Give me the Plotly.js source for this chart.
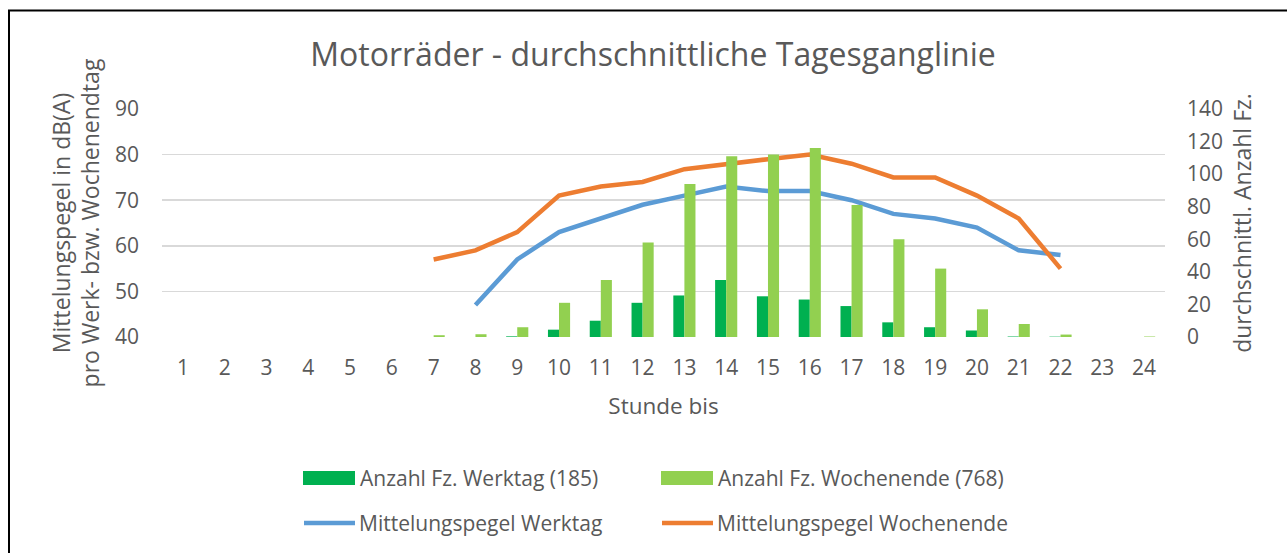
<!DOCTYPE html>
<html>
<head>
<meta charset="utf-8">
<script src="https://cdn.plot.ly/plotly-3.0.1.min.js"></script>
<style>
  html, body { margin: 0; padding: 0; background: #fff; }
  #chart { width: 1287px; height: 553px; }
</style>
</head>
<body>
<div id="chart"></div>
<script>
// ---- data ----
const hours = ['1','2','3','4','5','6','7','8','9','10','11','12','13','14','15','16','17','18','19','20','21','22','23','24'];
const countWorkday = [null,null,null,null,null,null,null,null,0.4,4.5,10,21,25.5,35,25,23,19,9,6,4,0.3,0.2,null,null];
const countWeekend = [null,null,null,null,null,null,1.1,1.7,6,21,35,58,94,111,112,116,81,60,42,17,8,1.5,null,0.3];
const levelWorkday = [null,null,null,null,null,null,null,47,57,63,66,69,71,73,72,72,70,67,66,64,59,58,null,null];
const levelWeekend = [null,null,null,null,null,null,57,59,63,71,73,74,76.8,78,79,80,78,75,75,71,66,55,null,null];
const seriesNames = ['Anzahl Fz. Werktag (185)','Anzahl Fz. Wochenende (768)','Mittelungspegel Werktag','Mittelungspegel Wochenende'];

// ---- style ----
const C_DARK = '#00B050', C_LIGHT = '#92D050', C_BLUE = '#5B9BD5', C_ORANGE = '#ED7D31';
const TXT = '#595959', GRID = '#D9D9D9';
const FONT = 'Open Sans, sans-serif';
const W = 1287, H = 553;
const L = 162, R = 1165, T = 109, B = 337;
const px = x => (x - L) / (R - L);
const py = y => (B - y) / (B - T);

const traces = [
  {type:'bar', x:hours, y:countWorkday, name:seriesNames[0], yaxis:'y2', marker:{color:C_DARK}, showlegend:false},
  {type:'bar', x:hours, y:countWeekend, name:seriesNames[1], yaxis:'y2', marker:{color:C_LIGHT}, showlegend:false},
  {type:'scatter', mode:'lines', x:hours, y:levelWorkday, name:seriesNames[2], line:{color:C_BLUE, width:4.5}, showlegend:false},
  {type:'scatter', mode:'lines', x:hours, y:levelWeekend, name:seriesNames[3], line:{color:C_ORANGE, width:4.5}, showlegend:false}
];

// manual legend (Excel style swatches)
const legendRows = [
  {y:478, items:[{x:303, kind:'rect', color:C_DARK, name:seriesNames[0]}, {x:661, kind:'rect', color:C_LIGHT, name:seriesNames[1]}]},
  {y:523, items:[{x:302, kind:'line', color:C_BLUE, name:seriesNames[2]}, {x:660, kind:'line', color:C_ORANGE, name:seriesNames[3]}]}
];
const shapes = [
  // outer chart border
  {type:'rect', xref:'paper', yref:'paper', x0:px(9), x1:px(1320), y0:py(10.5), y1:py(600), line:{color:'#000', width:2}, fillcolor:'rgba(0,0,0,0)', layer:'below'}
];
const annotations = [];
legendRows.forEach(row => {
  row.items.forEach(it => {
    if (it.kind === 'rect') {
      shapes.push({type:'rect', xref:'paper', yref:'paper', x0:px(it.x), x1:px(it.x+52), y0:py(row.y-7), y1:py(row.y+7), line:{width:0}, fillcolor:it.color});
    } else {
      shapes.push({type:'line', xref:'paper', yref:'paper', x0:px(it.x+2), x1:px(it.x+53), y0:py(row.y), y1:py(row.y), line:{width:4.5, color:it.color}});
    }
    annotations.push({xref:'paper', yref:'paper', x:px(it.x+56), y:py(row.y), xanchor:'left', yanchor:'middle', showarrow:false, text:it.name, font:{family:FONT, size:21, color:TXT}, borderpad:0});
  });
});

const layout = {
  width: W, height: H,
  margin: {l:L, r:W-R, t:T, b:H-B, pad:0},
  paper_bgcolor:'#fff', plot_bgcolor:'#fff',
  font:{family:FONT, color:TXT, size:21},
  title:{text:'Motorräder - durchschnittliche Tagesganglinie', font:{family:FONT, size:32, color:TXT}, xref:'container', yref:'container', x:653/W, y:1-55/H, xanchor:'center', yanchor:'middle'},
  barmode:'group', bargap:0.47, bargroupgap:0,
  showlegend:false,
  xaxis:{type:'category', showgrid:false, zeroline:false, showline:false, ticks:'', tickfont:{size:21, color:TXT}, ticklabelstandoff:16,
         title:{text:'Stunde bis', font:{size:22.5, color:TXT}, standoff:18}},
  yaxis:{range:[40,90], dtick:10, tick0:40, showgrid:true, gridcolor:GRID, gridwidth:1.5, zeroline:false, showline:false, ticks:'', tickfont:{size:21, color:TXT}, ticklabelstandoff:22,
         title:{text:'Mittelungspegel in dB(A)<br>pro Werk- bzw. Wochenendtag', font:{size:23, color:TXT}, standoff:8}},
  yaxis2:{range:[0,140], dtick:20, tick0:0, overlaying:'y', side:'right', showgrid:false, zeroline:false, showline:false, ticks:'', tickfont:{size:21, color:TXT}, ticklabelstandoff:21,
         title:{text:'durchschnittl. Anzahl Fz.', font:{size:23, color:TXT}, standoff:12}},
  shapes: shapes,
  annotations: annotations
};

Plotly.newPlot('chart', traces, layout, {displayModeBar:false, staticPlot:true});
</script>
</body>
</html>
